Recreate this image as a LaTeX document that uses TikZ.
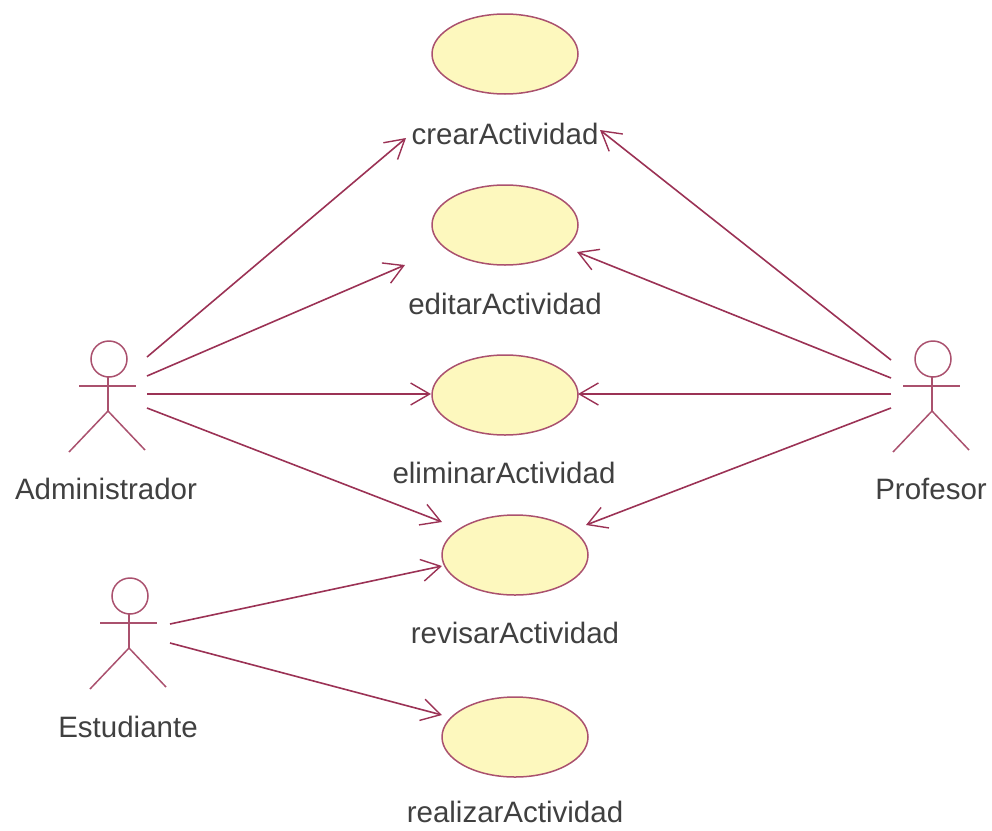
\documentclass[tikz,border=0pt]{standalone}
\usepackage{fontspec}
\setmainfont{Liberation Sans}
\usetikzlibrary{arrows.meta,shapes.geometric}
\definecolor{lin}{RGB}{155,50,85}
\definecolor{uc}{RGB}{253,248,190}
\tikzset{x=1pt,y=-1pt,
 usecase/.style={ellipse,draw=lin!85!white,fill=uc,line width=1.5pt,minimum width=146pt,minimum height=80pt,inner sep=0pt},
 lab/.style={inner sep=0pt,font=\fontsize{29.5}{32}\selectfont,text=black!75},
 conn/.style={draw=lin,line width=1.6pt,-{Straight Barb[length=19pt,width=22pt,line width=1.4pt]}},
 act/.style={draw=lin!85!white,line width=1.5pt}}
\newcommand{\actor}[3]{%
 \draw[act] (#1+1,#2-27) circle (18);
 \draw[act] (#1,#2-9) -- (#1,#2+25);
 \draw[act] (#1-29,#2) -- (#1+28,#2);
 \draw[act] (#1-39,#2+66) -- (#1,#2+25) -- (#1+37,#2+64);
 \coordinate (#3) at (#1,#2);}
\begin{document}
\begin{tikzpicture}
\useasboundingbox (0,0) rectangle (992,830);
\node[usecase] (u1) at (505,54) {};
\node[usecase] (u2) at (505,225) {};
\node[usecase] (u3) at (505,395) {};
\node[usecase] (u4) at (515,555) {};
\node[usecase] (u5) at (515,737) {};
\node[lab] (l1) at (505,134) {crearActividad};
\node[lab] (l2) at (505,304) {editarActividad};
\node[lab] (l3) at (504,473) {eliminarActividad};
\node[lab] (l4) at (515,633) {revisarActividad};
\node[lab] (l5) at (515,812) {realizarActividad};
\actor{108}{386}{aa}
\actor{932}{386}{ap}
\actor{129}{623}{ae}
\node[lab] (la) at (106,489) {Administrador};
\node[lab] (lp) at (931,489) {Profesor};
\node[lab] (le) at (128,727) {Estudiante};
\coordinate (a1) at (147,357);
\coordinate (a2) at (147,376);
\coordinate (a3) at (147,394);
\coordinate (a4) at (147,408);
\coordinate (p1) at (891,360);
\coordinate (p2) at (891,378);
\coordinate (p3) at (891,394);
\coordinate (p4) at (891,408);
\coordinate (e1) at (170,624);
\coordinate (e2) at (170,643);
\coordinate (t1) at (406,138);
\coordinate (t2) at (405,265);
\coordinate (t3) at (431,394);
\coordinate (t4) at (442,522);
\coordinate (t5) at (442,566);
\coordinate (t6) at (442,715);
\coordinate (q1) at (600,130);
\coordinate (q2) at (577,252);
\coordinate (q3) at (578,394);
\coordinate (q4) at (586,525);
\draw[conn] (a1) -- (t1);
\draw[conn] (a2) -- (t2);
\draw[conn] (a3) -- (t3);
\draw[conn] (a4) -- (t4);
\draw[conn] (p1) -- (q1);
\draw[conn] (p2) -- (q2);
\draw[conn] (p3) -- (q3);
\draw[conn] (p4) -- (q4);
\draw[conn] (e1) -- (t5);
\draw[conn] (e2) -- (t6);
\end{tikzpicture}
\end{document}
